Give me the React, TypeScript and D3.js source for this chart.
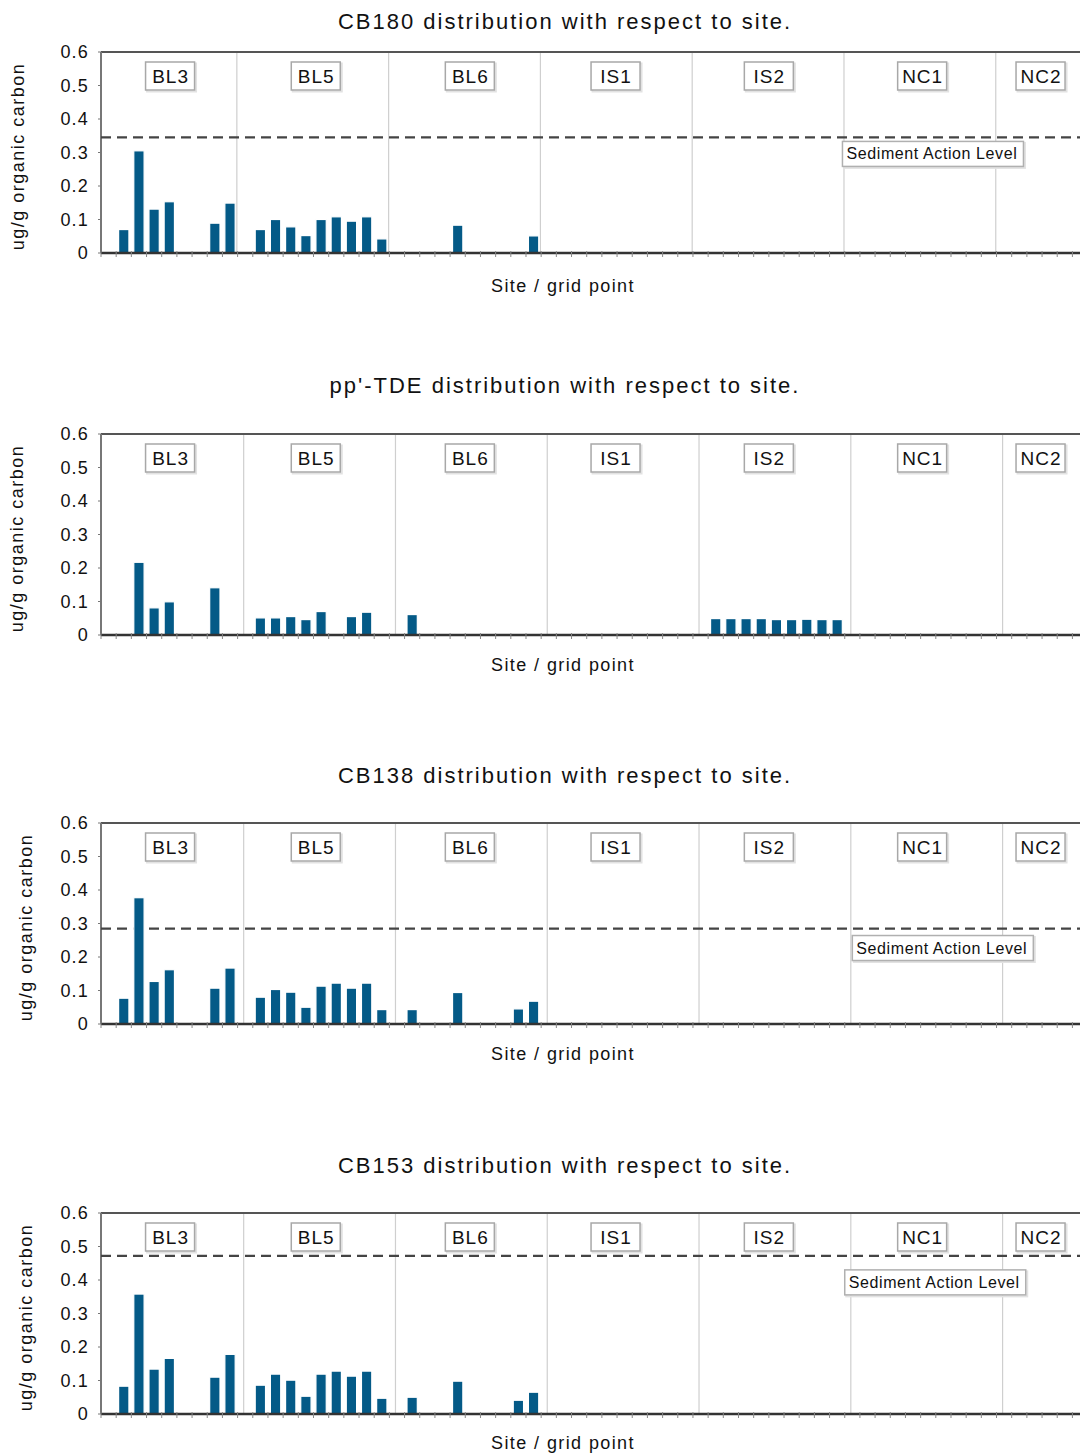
import { useEffect, useRef } from 'react';
import * as d3 from 'd3';

// site names along the x axis, and where each label box sits (in grid-point units)
const sites = ['BL3', 'BL5', 'BL6', 'IS1', 'IS2', 'NC1', 'NC2'];
const siteLabelPos = [4.05, 13.65, 23.8, 33.4, 43.5, 53.6, 61.4];
const yTicks = [0, 0.1, 0.2, 0.3, 0.4, 0.5, 0.6];

// CB180
const cb180Slots = [1, 2, 3, 4, 7, 8, 10, 11, 12, 13, 14, 15, 16, 17, 18, 23, 28];
const cb180Values = [0.07, 0.305, 0.131, 0.153, 0.089, 0.149, 0.07, 0.1, 0.078, 0.052, 0.1, 0.108, 0.095, 0.108, 0.042, 0.083, 0.051];

// pp'-TDE
const tdeSlots = [2, 3, 4, 7, 10, 11, 12, 13, 14, 16, 17, 20, 40, 41, 42, 43, 44, 45, 46, 47, 48];
const tdeValues = [0.217, 0.081, 0.099, 0.141, 0.051, 0.051, 0.055, 0.046, 0.07, 0.055, 0.068, 0.061, 0.049, 0.049, 0.049, 0.049, 0.046, 0.046, 0.047, 0.046, 0.046];

// CB138
const cb138Slots = [1, 2, 3, 4, 7, 8, 10, 11, 12, 13, 14, 15, 16, 17, 18, 20, 23, 27, 28];
const cb138Values = [0.077, 0.377, 0.127, 0.162, 0.107, 0.167, 0.08, 0.103, 0.095, 0.05, 0.113, 0.122, 0.107, 0.122, 0.043, 0.043, 0.094, 0.045, 0.068];

// CB153
const cb153Slots = [1, 2, 3, 4, 7, 8, 10, 11, 12, 13, 14, 15, 16, 17, 18, 20, 23, 27, 28];
const cb153Values = [0.083, 0.358, 0.134, 0.166, 0.11, 0.178, 0.086, 0.119, 0.101, 0.053, 0.119, 0.128, 0.113, 0.128, 0.047, 0.05, 0.098, 0.041, 0.065];

// sediment action levels (null = not shown)
const actionLevels = [0.345, null, 0.285, 0.472];

const panels = [
  { title: 'CB180 distribution with respect to site.', slots: cb180Slots, values: cb180Values, level: actionLevels[0], top: 52, titleY: 29, xLabelDy: 39, siteStart: 8.45, boxAt: 48.35, boxDy: 4, yLabelX: 24 },
  { title: "pp'-TDE distribution with respect to site.", slots: tdeSlots, values: tdeValues, level: actionLevels[1], top: 434, titleY: 393, xLabelDy: 36, siteStart: 8.9, boxAt: 0, boxDy: 0, yLabelX: 23 },
  { title: 'CB138 distribution with respect to site.', slots: cb138Slots, values: cb138Values, level: actionLevels[2], top: 823, titleY: 783, xLabelDy: 36, siteStart: 8.9, boxAt: 49, boxDy: 7, yLabelX: 32 },
  { title: 'CB153 distribution with respect to site.', slots: cb153Slots, values: cb153Values, level: actionLevels[3], top: 1213, titleY: 1173, xLabelDy: 35, siteStart: 8.9, boxAt: 48.5, boxDy: 14, yLabelX: 32 },
];

const W = 1080;
const H = 1454;
const PH = 201;
const FONT = '"Liberation Sans", Arial, sans-serif';
const BAR = '#045a87';

export default function App() {
  const svgRef = useRef<SVGSVGElement>(null);

  useEffect(() => {
    if (!svgRef.current) return;
    const svg = d3.select(svgRef.current);
    svg.selectAll('*').remove();

    const x = d3.scaleLinear().domain([-0.5, 64]).range([101, 1080]);
    const slotW = x(1) - x(0);

    panels.forEach((p) => {
      const y = d3.scaleLinear().domain([0, 0.6]).range([p.top + PH, p.top]);
      const g = svg.append('g').style('font-family', FONT);

      // title
      g.append('text')
        .attr('x', 565)
        .attr('y', p.titleY)
        .attr('text-anchor', 'middle')
        .attr('font-size', 22)
        .attr('letter-spacing', 2)
        .attr('fill', '#111')
        .text(p.title);

      // site separators
      d3.range(1, sites.length).forEach((k) => {
        g.append('line')
          .attr('x1', x(p.siteStart + (k - 1) * 10))
          .attr('x2', x(p.siteStart + (k - 1) * 10))
          .attr('y1', y(0.6))
          .attr('y2', y(0))
          .attr('stroke', '#cfcfcf')
          .attr('stroke-width', 1.2);
      });

      // frame: top, left
      g.append('line')
        .attr('x1', x(-0.5)).attr('x2', W)
        .attr('y1', y(0.6)).attr('y2', y(0.6))
        .attr('stroke', '#555').attr('stroke-width', 2);
      g.append('line')
        .attr('x1', x(-0.5)).attr('x2', x(-0.5))
        .attr('y1', y(0.6)).attr('y2', y(0))
        .attr('stroke', '#777').attr('stroke-width', 2);

      // y ticks and labels
      yTicks.forEach((t) => {
        g.append('line')
          .attr('x1', x(-0.5) - 3).attr('x2', x(-0.5))
          .attr('y1', y(t)).attr('y2', y(t))
          .attr('stroke', '#777');
        g.append('text')
          .attr('x', 89)
          .attr('y', y(t) + 6)
          .attr('text-anchor', 'end')
          .attr('font-size', 18)
          .attr('letter-spacing', 1.2)
          .attr('fill', '#111')
          .text(t === 0 ? '0' : d3.format('.1f')(t));
      });

      // site label boxes
      sites.forEach((s, i) => {
        const cx = x(siteLabelPos[i]);
        const bw = 49;
        const bh = 28;
        const by = p.top + 10;
        g.append('rect')
          .attr('x', cx - bw / 2 + 1.5).attr('y', by + 1.5)
          .attr('width', bw).attr('height', bh)
          .attr('fill', 'none').attr('stroke', '#e2e2e2').attr('stroke-width', 2);
        g.append('rect')
          .attr('x', cx - bw / 2).attr('y', by)
          .attr('width', bw).attr('height', bh)
          .attr('fill', 'white').attr('stroke', '#a8a8a8').attr('stroke-width', 1.5);
        g.append('text')
          .attr('x', cx + 0.5)
          .attr('y', by + bh / 2 + 7)
          .attr('text-anchor', 'middle')
          .attr('font-size', 19)
          .attr('letter-spacing', 1)
          .attr('fill', '#111')
          .text(s);
      });

      // action level
      if (p.level !== null) {
        g.append('line')
          .attr('x1', x(-0.5)).attr('x2', W)
          .attr('y1', y(p.level)).attr('y2', y(p.level))
          .attr('stroke', '#444')
          .attr('stroke-width', 2.2)
          .attr('stroke-dasharray', '10 6');
        const bx = x(p.boxAt);
        const by = y(p.level) + p.boxDy;
        g.append('rect')
          .attr('x', bx + 1.5).attr('y', by + 1.5)
          .attr('width', 181).attr('height', 25)
          .attr('fill', 'none').attr('stroke', '#e2e2e2').attr('stroke-width', 2);
        g.append('rect')
          .attr('x', bx).attr('y', by)
          .attr('width', 181).attr('height', 25)
          .attr('fill', 'white').attr('stroke', '#b0b0b0').attr('stroke-width', 1.5);
        g.append('text')
          .attr('x', bx + 4)
          .attr('y', by + 18)
          .attr('font-size', 16)
          .attr('letter-spacing', 0.6)
          .attr('fill', '#111')
          .text('Sediment Action Level');
      }

      // bars
      const data = p.slots.map((s, i) => ({ slot: s, value: p.values[i] }));
      g.selectAll('rect.bar')
        .data(data)
        .join('rect')
        .attr('class', 'bar')
        .attr('x', (d) => x(d.slot) - slotW * 0.34)
        .attr('width', slotW * 0.68)
        .attr('y', (d) => y(d.value))
        .attr('height', (d) => y(0) - y(d.value))
        .attr('fill', BAR)
        .attr('stroke', 'white')
        .attr('stroke-width', 1.2);

      // x axis with a tick at every grid point boundary
      g.append('line')
        .attr('x1', x(-0.5)).attr('x2', W)
        .attr('y1', y(0)).attr('y2', y(0))
        .attr('stroke', '#333').attr('stroke-width', 2.5);
      d3.range(-0.5, 64, 1).forEach((t) => {
        g.append('line')
          .attr('x1', x(t)).attr('x2', x(t))
          .attr('y1', y(0) - 2).attr('y2', y(0) + 4)
          .attr('stroke', '#888').attr('stroke-width', 1);
      });

      // axis titles
      g.append('text')
        .attr('x', 563)
        .attr('y', y(0) + p.xLabelDy)
        .attr('text-anchor', 'middle')
        .attr('font-size', 18)
        .attr('letter-spacing', 1.4)
        .attr('fill', '#111')
        .text('Site / grid point');
      g.append('text')
        .attr('transform', `translate(${p.yLabelX},${p.top + PH / 2 + 4}) rotate(-90)`)
        .attr('text-anchor', 'middle')
        .attr('font-size', 18)
        .attr('letter-spacing', 1.5)
        .attr('fill', '#111')
        .text('ug/g organic carbon');
    });
  }, []);

  return (
    <svg
      ref={svgRef}
      width={W}
      height={H}
      style={{ position: 'absolute', left: 0, top: 0, background: 'white' }}
    />
  );
}
